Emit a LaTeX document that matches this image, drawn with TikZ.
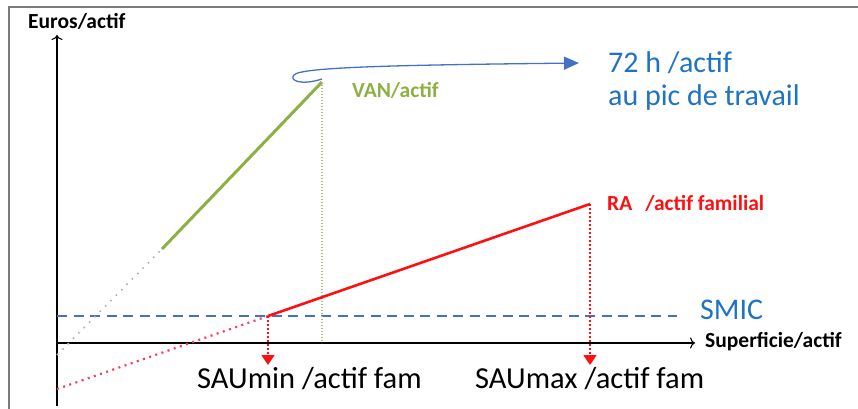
\documentclass[tikz,border=0pt]{standalone}
\usepackage{fontspec}
\setmainfont{Carlito}
\usetikzlibrary{arrows.meta,positioning}
\definecolor{green1}{HTML}{8DB045}
\definecolor{green2}{HTML}{B2BC80}
\definecolor{green3}{HTML}{A9B996}
\definecolor{blue1}{HTML}{4470C8}
\definecolor{blue2}{HTML}{1E73C3}
\definecolor{red1}{HTML}{FF1010}
\definecolor{red2}{HTML}{FF3A5A}
\definecolor{gray1}{HTML}{7A7A7A}

\begin{document}
\begin{tikzpicture}[x=1pt, y=-1pt,
  axis/.style={draw=black, line width=1.1pt, -{To[length=5pt,width=11pt]}},
  axislabel/.style={font=\fontsize{21.5}{25}\selectfont\bfseries, inner sep=0pt, anchor=base west},
  bluetext/.style={text=blue2, font=\fontsize{30}{34}\selectfont, inner sep=0pt, anchor=base west},
  sautext/.style={text=black, font=\fontsize{30.5}{34}\selectfont, inner sep=0pt, anchor=base west},
  redarrow/.style={draw=red1, line width=1.8pt, dash pattern=on 1.6pt off 2.4pt, -{Triangle[length=10pt,width=13pt]}}]
\useasboundingbox (0,0) rectangle (858,408);

% cadre
\draw[gray1, line width=1.5pt] (9,410) -- (9,7) -- (860,7);

% axes
\coordinate (O) at (57,343);
\coordinate (ytop) at (57,35);
\coordinate (ybot) at (57,406);
\coordinate (xend) at (695,343);
\draw[axis] (ybot) -- (ytop);
\draw[axis] (O) -- (xend);
\node[axislabel] (euros) at (28,28) {Euros/actif};
\node[axislabel] (superf) at (705,347) {Superficie/actif};

% SMIC
\coordinate (smic0) at (57,316);
\coordinate (smic1) at (677,316);
\draw[blue1, line width=1.4pt, dash pattern=on 10pt off 6.5pt] (smic0) -- (smic1);
\node[bluetext] (smic) at (700,319) {SMIC};

% VAN
\coordinate (van0) at (57,355);
\coordinate (vanmid) at (162,249);
\coordinate (vantop) at (322,82);
\coordinate (vanfoot) at (322,343);
\draw[green3, line width=1.6pt, dash pattern=on 1.6pt off 6pt] (van0) -- (vanmid);
\draw[green1, line width=3pt] (vanmid) -- (vantop);
\draw[green2, line width=2.8pt, dash pattern=on 1.3pt off 1.7pt] (vantop) -- (vanfoot);
\node[axislabel, text=green1] (van) at (352,97) {VAN/actif};

% 72 h
\coordinate (loop) at (294,75);
\coordinate (tip) at (579,63);
\draw[blue1, line width=1.3pt, -{Triangle[length=15pt,width=13pt]}]
  ([yshift=3pt]vantop) .. controls (300,86) and (289,80) .. (loop)
  .. controls (300,67) and (400,65) .. (tip);
\node[bluetext] (pic1) at (608,72) {72 h /actif};
\node[bluetext] (pic2) at (608,105) {au pic de travail};

% RA
\coordinate (ra0) at (57,389);
\coordinate (samin) at (268,316);
\coordinate (ramax) at (590,204);
\coordinate (minend) at (268,365);
\coordinate (maxend) at (590,365);
\draw[red2, line width=2.2pt, dash pattern=on 2pt off 4.5pt] (ra0) -- (samin);
\draw[red1, line width=2.6pt] (samin) -- (ramax);
\draw[redarrow] (samin) -- (minend);
\draw[redarrow] (ramax) -- (maxend);
\node[axislabel, text=red1] (ra) at (607,210) {RA\hspace{13pt}/actif familial};

\node[sautext] (saumin) at (197,388) {SAUmin /actif fam};
\node[sautext] (saumax) at (475,388) {SAUmax /actif fam};
\end{tikzpicture}
\end{document}
